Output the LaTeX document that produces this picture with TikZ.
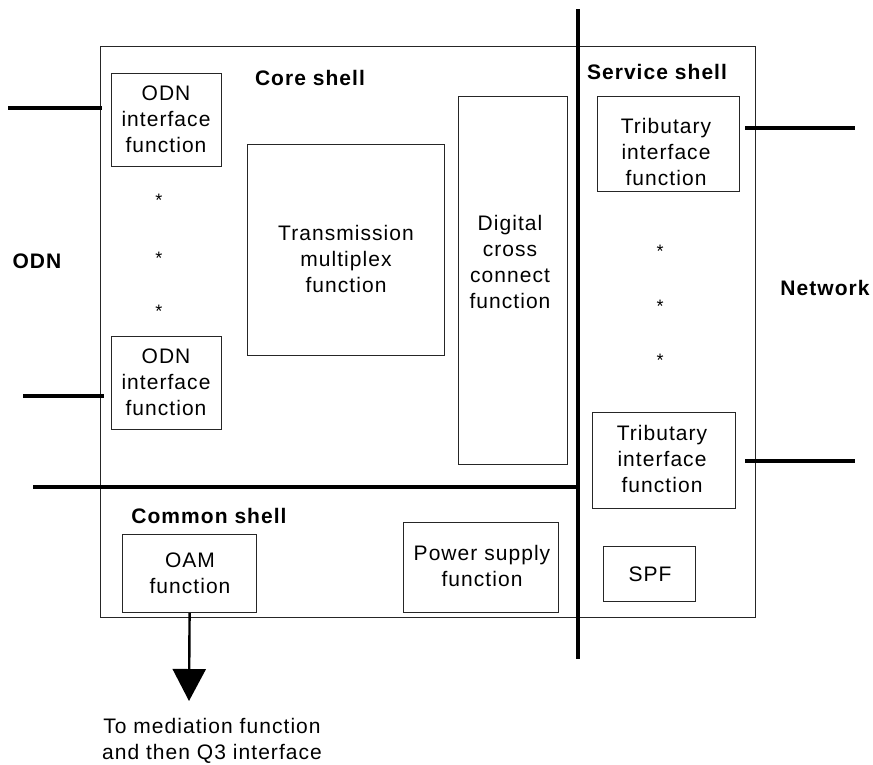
\documentclass[tikz,border=0pt]{standalone}
\usepackage{fontspec}
\setmainfont{Liberation Sans}[LetterSpace=5]
\usetikzlibrary{arrows.meta}
\begin{document}
\begin{tikzpicture}[x=1pt,y=-1pt,
  box/.style={draw=black!85, line width=1.2pt, inner sep=0pt, anchor=north west},
  txt/.style={align=center, inner sep=0pt, font=\fontsize{21}{26}\selectfont},
  hdr/.style={inner sep=0pt, font=\fontsize{21}{26}\selectfont\bfseries},
  star/.style={inner sep=0pt, font=\fontsize{18}{20}\selectfont},
  bar/.style={line width=3.2pt},
  oamarrow/.style={line width=2.4pt, -{Triangle[width=33pt,length=32pt]}}]
\useasboundingbox (0,0) rectangle (873,764);

% outer frame
\node[box, minimum width=655, minimum height=571] (outer) at (100,46) {};

% boxes
\node[box, minimum width=110, minimum height=93] (odn1) at (111,73) {};
\node[box, minimum width=110, minimum height=93] (odn2) at (111,336) {};
\node[box, minimum width=197, minimum height=211] (tm) at (247,144) {};
\node[box, minimum width=109, minimum height=368] (dcc) at (458,96) {};
\node[box, minimum width=142, minimum height=95] (trib1) at (597,96) {};
\node[box, minimum width=143, minimum height=96] (trib2) at (592,412) {};
\node[box, minimum width=134, minimum height=78] (oam) at (122,534) {};
\node[box, minimum width=155, minimum height=90] (psf) at (403,522) {};
\node[box, minimum width=92, minimum height=55] (spf) at (603,546) {};

% box texts
\node[txt] (odn1t) at (166,119) {ODN\\interface\\function};
\node[txt] (odn2t) at (166,382) {ODN\\interface\\function};
\node[txt] (tmt) at (346,259) {Transmission\\multiplex\\function};
\node[txt] (dcct) at (510,262) {Digital\\cross\\connect\\function};
\node[txt] (trib1t) at (666,152) {Tributary\\interface\\function};
\node[txt] (trib2t) at (662,459) {Tributary\\interface\\function};
\node[txt] (oamt) at (190,573) {OAM\\function};
\node[txt] (psft) at (482,566) {Power supply\\function};
\node[txt] (spft) at (650,574) {SPF};

% headings
\node[hdr] (core) at (310,78) {Core shell};
\node[hdr] (service) at (657,72) {Service shell};
\node[hdr] (common) at (209,516) {Common shell};
\node[hdr] (odnlbl) at (37,261) {ODN};
\node[hdr] (netlbl) at (825,288) {Network};

% stars
\node[star] (s1) at (159,200) {*};
\node[star] (s2) at (159,258) {*};
\node[star] (s3) at (159,311) {*};
\node[star] (s4) at (660,251) {*};
\node[star] (s5) at (660,306) {*};
\node[star] (s6) at (660,360) {*};

% thick dividing lines
\coordinate (vt) at (578,9);
\coordinate (vb) at (578,659);
\draw[bar] (vt) -- (vb);
\coordinate (hl) at (33,487);
\coordinate (hr) at (578,487);
\draw[bar] (hl) -- (hr);

% interface lines
\coordinate (la1) at (8,108);  \coordinate (lb1) at (102,108);
\coordinate (la2) at (23,396); \coordinate (lb2) at (104,396);
\coordinate (ra1) at (745,128); \coordinate (rb1) at (855,128);
\coordinate (ra2) at (745,461); \coordinate (rb2) at (855,461);
\draw[bar] (la1) -- (lb1);
\draw[bar] (la2) -- (lb2);
\draw[bar] (ra1) -- (rb1);
\draw[bar] (ra2) -- (rb2);

% OAM arrow
\coordinate (tip) at (189,701);
\draw[oamarrow] (oam.south) -- (tip);
\node[txt] (medt) at (212,741) {To mediation function\\and then Q3 interface};
\end{tikzpicture}
\end{document}
